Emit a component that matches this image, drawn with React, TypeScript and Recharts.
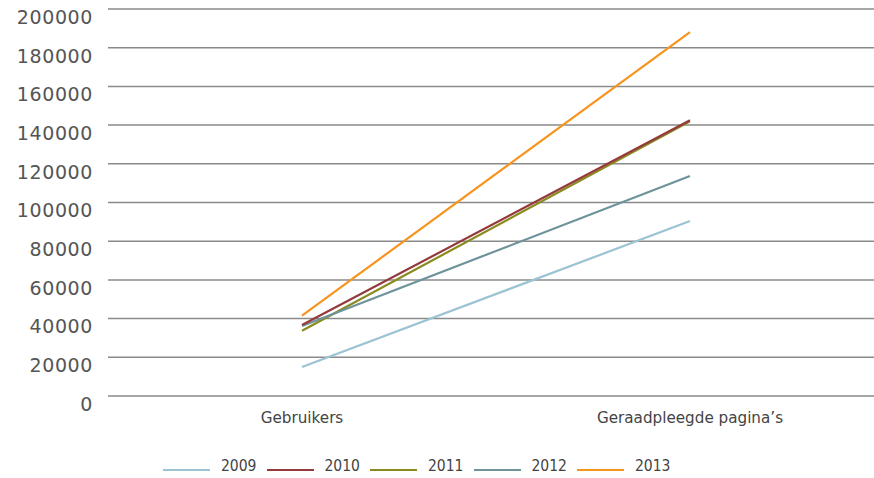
import { LineChart, Line, XAxis, YAxis, CartesianGrid } from "recharts";

const categories = ["Gebruikers", "Geraadpleegde pagina’s"];

const years = ["2009", "2010", "2011", "2012", "2013"];

const values2009 = [15000, 90400];
const values2010 = [36700, 142500];
const values2011 = [33700, 142000];
const values2012 = [36200, 113700];
const values2013 = [41500, 188100];

const yTicks = [0, 20000, 40000, 60000, 80000, 100000, 120000, 140000, 160000, 180000, 200000];

const seriesValues: Record<string, number[]> = {
  "2009": values2009,
  "2010": values2010,
  "2011": values2011,
  "2012": values2012,
  "2013": values2013,
};

const colors: Record<string, string> = {
  "2009": "#9bc3d3",
  "2010": "#953a3c",
  "2011": "#8a8b1f",
  "2012": "#6e939b",
  "2013": "#f7941e",
};

// drawing order so that the overlaps look like the original
const drawOrder = ["2009", "2011", "2012", "2010", "2013"];

const data = categories.map((name, i) => {
  const row: Record<string, string | number> = { name };
  years.forEach((y) => {
    row[y] = seriesValues[y][i];
  });
  return row;
});

function YTick(props: any) {
  const { x, y, payload } = props;
  return (
    <text
      x={x}
      y={y + 8}
      dy="0.36em"
      textAnchor="end"
      fill="#555"
      fontSize={19}
      letterSpacing={0.6}
      fontFamily="DejaVu Sans"
    >
      {payload.value}
    </text>
  );
}

function XTick(props: any) {
  const { x, y, payload } = props;
  return (
    <text
      x={x}
      y={y + 14}
      dy="0.36em"
      textAnchor="middle"
      fill="#444"
      fontSize={15.2}
      fontFamily="DejaVu Sans"
    >
      {payload.value}
    </text>
  );
}

export default function App() {
  return (
    <div
      style={{
        position: "absolute",
        left: 0,
        top: 0,
        width: 874,
        height: 478,
        overflow: "hidden",
        background: "#fff",
      }}
    >
      <LineChart width={884} height={478} data={data} margin={{ top: 9, right: 0, bottom: 52, left: 0 }}>
        <CartesianGrid vertical={false} stroke="#8a8a8a" strokeWidth={1.5} />
        <XAxis
          dataKey="name"
          height={30}
          axisLine={false}
          tickLine={false}
          tick={<XTick />}
          interval={0}
          padding={{ left: 194, right: 194 }}
        />
        <YAxis
          width={108}
          domain={[0, 200000]}
          ticks={yTicks}
          axisLine={false}
          tickLine={false}
          tickSize={0}
          tickMargin={15}
          tick={<YTick />}
        />
        {drawOrder.map((y) => (
          <Line
            key={y}
            dataKey={y}
            stroke={colors[y]}
            strokeWidth={2.2}
            dot={false}
            activeDot={false}
            isAnimationActive={false}
          />
        ))}
      </LineChart>
      <div
        style={{
          position: "absolute",
          left: 163,
          top: 456,
          display: "flex",
          fontFamily: "DejaVu Sans Condensed",
          fontSize: 15.5,
          color: "#444",
        }}
      >
        {years.map((y) => (
          <div key={y} style={{ width: 103.5, display: "flex", alignItems: "center", height: 20 }}>
            <div
              style={{
                width: 47,
                height: 2,
                background: colors[y],
                marginRight: 11,
                marginTop: 8,
              }}
            />
            <span>{y}</span>
          </div>
        ))}
      </div>
    </div>
  );
}
